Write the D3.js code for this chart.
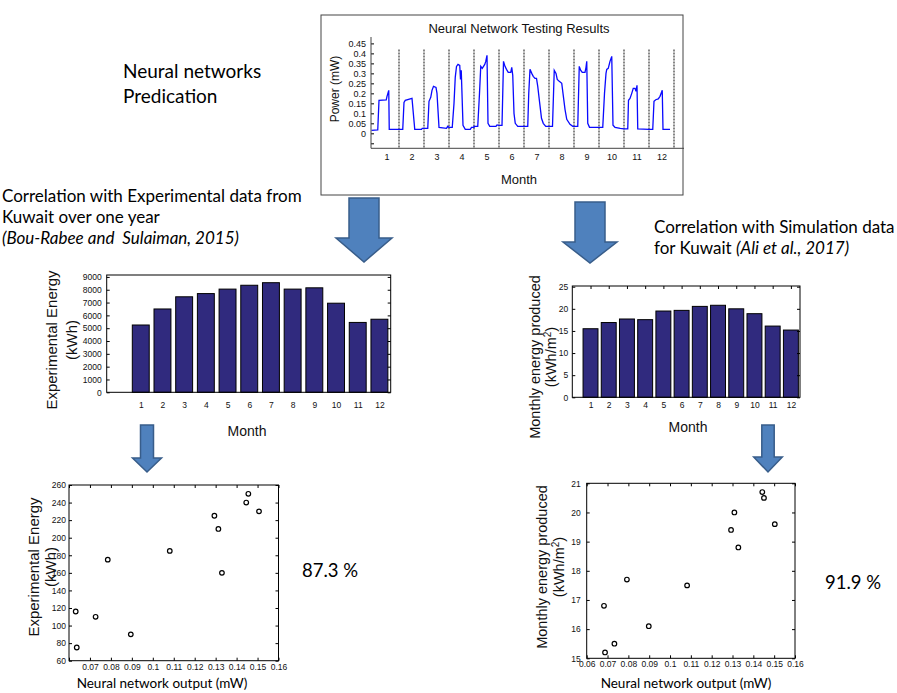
<!DOCTYPE html>
<html>
<head>
<meta charset="utf-8">
<script src="https://cdn.jsdelivr.net/npm/d3@7"></script>
<style>
  body { margin: 0; background: #fff; }
  svg text { font-family: "Liberation Sans", Arial, sans-serif; fill: #111; }
  svg text.note { font-family: Lato, "Open Sans", sans-serif; fill: #000; white-space: pre; }
</style>
</head>
<body>
<svg id="fig" width="897" height="693"></svg>
<script>
// ---------- data ----------
const months = [1, 2, 3, 4, 5, 6, 7, 8, 9, 10, 11, 12];

// NN testing result: one power curve per month, [position inside month 0..1, power mW]
const powerProfile = [
  [[-0.1, 0.015], [0.15, 0.017], [0.2, 0.165], [0.49, 0.167], [0.52, 0.185], [0.59, 0.215], [0.61, 0.02], [1, 0.02]],
  [[0, 0.02], [0.15, 0.02], [0.2, 0.155], [0.25, 0.165], [0.52, 0.175], [0.63, 0.02], [0.9, 0.02], [0.93, 0.025], [1, 0.025]],
  [[0, 0.025], [0.15, 0.025], [0.2, 0.16], [0.27, 0.18], [0.32, 0.215], [0.38, 0.235], [0.48, 0.23], [0.52, 0.2], [0.6, 0.03], [0.9, 0.025], [0.95, 0.035], [1, 0.03]],
  [[0, 0.03], [0.13, 0.03], [0.2, 0.15], [0.25, 0.28], [0.3, 0.335], [0.36, 0.345], [0.43, 0.34], [0.46, 0.27], [0.49, 0.315], [0.56, 0.04], [0.65, 0.02], [0.85, 0.02], [0.9, 0.03], [1, 0.03]],
  [[0, 0.035], [0.15, 0.035], [0.22, 0.2], [0.27, 0.335], [0.33, 0.325], [0.43, 0.345], [0.47, 0.36], [0.52, 0.39], [0.56, 0.05], [0.63, 0.035], [0.88, 0.035], [0.92, 0.042], [1, 0.04]],
  [[0, 0.04], [0.12, 0.04], [0.18, 0.36], [0.24, 0.335], [0.3, 0.32], [0.37, 0.305], [0.47, 0.305], [0.51, 0.33], [0.55, 0.29], [0.6, 0.1], [0.65, 0.05], [0.75, 0.035], [1, 0.035]],
  [[0, 0.035], [0.15, 0.035], [0.19, 0.2], [0.24, 0.32], [0.31, 0.3], [0.37, 0.285], [0.44, 0.275], [0.5, 0.275], [0.55, 0.235], [0.61, 0.17], [0.7, 0.075], [0.77, 0.05], [0.87, 0.035], [1, 0.035]],
  [[0, 0.035], [0.14, 0.035], [0.21, 0.315], [0.28, 0.3], [0.33, 0.27], [0.41, 0.26], [0.51, 0.25], [0.57, 0.19], [0.64, 0.12], [0.71, 0.07], [0.84, 0.045], [0.95, 0.035], [1, 0.035]],
  [[0, 0.035], [0.15, 0.035], [0.21, 0.335], [0.27, 0.315], [0.33, 0.305], [0.44, 0.305], [0.48, 0.33], [0.51, 0.36], [0.55, 0.05], [0.62, 0.03], [0.9, 0.03], [1, 0.03]],
  [[0, 0.03], [0.15, 0.03], [0.22, 0.2], [0.28, 0.3], [0.31, 0.32], [0.37, 0.325], [0.44, 0.36], [0.51, 0.385], [0.56, 0.04], [0.64, 0.03], [0.85, 0.025], [1, 0.022]],
  [[0, 0.022], [0.15, 0.022], [0.18, 0.165], [0.24, 0.175], [0.31, 0.2], [0.37, 0.225], [0.44, 0.225], [0.48, 0.21], [0.52, 0.24], [0.55, 0.022], [1, 0.02]],
  [[0, 0.02], [0.15, 0.02], [0.2, 0.16], [0.27, 0.168], [0.37, 0.172], [0.44, 0.185], [0.53, 0.215], [0.56, 0.02], [0.84, 0.02]]
];
const powerTicks = [-0.05, 0, 0.05, 0.1, 0.15, 0.2, 0.25, 0.3, 0.35, 0.4, 0.45];

// monthly bars
const expEnergy = [5250, 6500, 7450, 7700, 8050, 8350, 8550, 8050, 8150, 6950, 5450, 5700];
const expTicks = [0, 1000, 2000, 3000, 4000, 5000, 6000, 7000, 8000, 9000];
const simEnergy = [15.5, 16.9, 17.7, 17.55, 19.5, 19.65, 20.55, 20.8, 20.0, 18.9, 16.1, 15.2];
const simTicks = [0, 5, 10, 15, 20, 25];

// correlation scatters
const nnOutputExp = [0.0632, 0.0637, 0.0727, 0.0785, 0.0895, 0.1081, 0.1294, 0.1313, 0.1330, 0.1446, 0.1456, 0.1507];
const expScatter = [116, 75, 110, 175, 90, 185, 225, 210, 160, 240, 250, 230];
const nnOutputSim = [0.0683, 0.0688, 0.0733, 0.0793, 0.0898, 0.1082, 0.1293, 0.1309, 0.1328, 0.1443, 0.1451, 0.1503];
const simScatter = [16.8, 15.2, 15.5, 17.7, 16.1, 17.5, 19.4, 20.0, 18.8, 20.7, 20.5, 19.6];
const nnTicks = [0.06, 0.07, 0.08, 0.09, 0.1, 0.11, 0.12, 0.13, 0.14, 0.15, 0.16];
const expScatterTicks = [60, 80, 100, 120, 140, 160, 180, 200, 220, 240, 260];
const simScatterTicks = [15, 16, 17, 18, 19, 20, 21];

const plain = d => String(d);

const svg = d3.select("#fig");
svg.append("rect").attr("width", 897).attr("height", 693).attr("fill", "#fff");

// style the text/lines an axis call produced
function styleAxis(g, size, color) {
  g.attr("font-family", null).attr("font-size", null);
  g.selectAll("text").style("font-size", size + "px").attr("fill", color || "#222");
  g.selectAll("line").attr("stroke", "#000");
  g.select(".domain").remove();
  return g;
}

function blockArrow(cx, top, headTop, tip, shaftHalf, headHalf) {
  let pts = [[cx - shaftHalf, top], [cx + shaftHalf, top], [cx + shaftHalf, headTop], [cx + headHalf, headTop],
             [cx, tip], [cx - headHalf, headTop], [cx - shaftHalf, headTop]];
  svg.append("path").attr("d", d3.line()(pts) + "Z")
    .attr("fill", "#4f81bd").attr("stroke", "#385d8a").attr("stroke-width", 1.5);
}

function rotLabel(lines, cy, size) {
  // lines: [[text, x]] ; "^2" marks a superscript two
  lines.forEach(([txt, x]) => {
    let t = svg.append("text").attr("transform", `translate(${x},${cy}) rotate(-90)`)
      .attr("text-anchor", "middle").attr("dy", "0.35em").style("font-size", size + "px");
    if (txt.includes("^2")) {
      let parts = txt.split("^2");
      t.append("tspan").text(parts[0]);
      t.append("tspan").attr("baseline-shift", "super").style("font-size", (size * 0.7) + "px").text("2");
      t.append("tspan").text(parts[1]);
    } else t.text(txt);
  });
}

function note(x, y, size, txt, anchor) {
  return svg.append("text").attr("class", "note").attr("x", x).attr("y", y)
    .attr("text-anchor", anchor || "start").style("font-size", size + "px").text(txt);
}

// ---------- top: neural network testing results ----------
{
  svg.append("rect").attr("x", 321).attr("y", 15).attr("width", 362).attr("height", 180)
    .attr("fill", "none").attr("stroke", "#444").attr("stroke-width", 1);

  let x = d3.scaleLinear().domain([-0.12, 12.4]).range([371, 684]);
  let y = d3.scaleLinear().domain([-0.075, 0.482]).range([148.3, 37]);

  // month separators
  svg.append("g").selectAll("line").data(months).join("line")
    .attr("x1", d => x(d)).attr("x2", d => x(d))
    .attr("y1", y(0.42)).attr("y2", y(-0.075))
    .attr("stroke", "#555").attr("stroke-width", 1.4).attr("stroke-dasharray", "2,1");

  let pts = [];
  powerProfile.forEach((prof, i) => prof.forEach(p => pts.push([i + p[0], p[1]])));
  svg.append("path").datum(pts)
    .attr("d", d3.line().x(d => x(d[0])).y(d => y(d[1])))
    .attr("fill", "none").attr("stroke", "#0a0aff").attr("stroke-width", 1.3);

  svg.append("g").attr("transform", `translate(${x.range()[0]},0)`)
    .call(d3.axisLeft(y).tickValues(powerTicks).tickSize(-3).tickPadding(5)
      .tickFormat(d => d < 0 ? "" : String(+d.toFixed(2))))
    .call(g => styleAxis(g, 9, "#333"));
  svg.append("line").attr("x1", x.range()[0]).attr("x2", x.range()[0])
    .attr("y1", y.range()[0]).attr("y2", y.range()[1]).attr("stroke", "#444");
  svg.append("g").attr("transform", `translate(0,${y.range()[0]})`)
    .call(d3.axisBottom(x).tickValues(months.map(m => m - 0.5)).tickSize(0).tickPadding(5)
      .tickFormat((d, i) => months[i]))
    .call(g => styleAxis(g, 9, "#333"));
  svg.append("line").attr("x1", x.range()[0]).attr("x2", x.range()[1])
    .attr("y1", y.range()[0]).attr("y2", y.range()[0]).attr("stroke", "#444");

  svg.append("text").attr("x", 519).attr("y", 33).attr("text-anchor", "middle")
    .style("font-size", "13px").text("Neural Network Testing Results");
  svg.append("text").attr("x", 519).attr("y", 184).attr("text-anchor", "middle")
    .style("font-size", "13px").text("Month");
  rotLabel([["Power (mW)", 335]], 89, 12);
}

// ---------- left: experimental monthly energy ----------
{
  let x = d3.scaleLinear().domain([-0.57, 12.52]).range([106.7, 390.7]);
  let y = d3.scaleLinear().domain([0, 9150]).range([392.3, 275]);
  let bw = 0.78 * (x(1) - x(0));

  svg.append("g").selectAll("rect").data(expEnergy).join("rect")
    .attr("x", (d, i) => x(months[i]) - bw / 2).attr("width", bw)
    .attr("y", d => y(d)).attr("height", d => y(0) - y(d))
    .attr("fill", "#302a7e").attr("stroke", "#000").attr("stroke-width", 1);

  svg.append("g").attr("transform", `translate(${x.range()[0]},0)`)
    .call(d3.axisLeft(y).tickValues(expTicks).tickSize(-3).tickPadding(5).tickFormat(plain))
    .call(g => styleAxis(g, 8.5));
  svg.append("g").attr("transform", `translate(${x.range()[1]},0)`)
    .call(d3.axisRight(y).tickValues(expTicks).tickSize(-3).tickFormat(""))
    .call(g => styleAxis(g, 8.5));
  svg.append("g").attr("transform", `translate(0,${y.range()[0]})`)
    .call(d3.axisBottom(x).tickValues(months).tickSize(0).tickPadding(10).tickFormat(plain))
    .call(g => styleAxis(g, 8.5));
  svg.append("rect").attr("x", 106.7).attr("y", 275).attr("width", 284).attr("height", 117.3)
    .attr("fill", "none").attr("stroke", "#000");

  svg.append("text").attr("x", 247).attr("y", 436).attr("text-anchor", "middle")
    .style("font-size", "14px").text("Month");
  rotLabel([["Experimental Energy", 52], ["(kWh)", 71.5]], 340, 15);
}

// ---------- right: simulated monthly energy ----------
{
  let x = d3.scaleLinear().domain([0, 12.5]).range([572.3, 800]);
  let y = d3.scaleLinear().domain([0, 25]).range([397.3, 286.7]);
  let bw = 0.82 * (x(1) - x(0));

  svg.append("g").selectAll("rect").data(simEnergy).join("rect")
    .attr("x", (d, i) => x(months[i]) - bw / 2).attr("width", bw)
    .attr("y", d => y(d)).attr("height", d => y(0) - y(d))
    .attr("fill", "#302a7e").attr("stroke", "#000").attr("stroke-width", 1);

  svg.append("g").attr("transform", `translate(${x.range()[0]},0)`)
    .call(d3.axisLeft(y).tickValues(simTicks).tickSize(-3).tickPadding(4).tickFormat(plain))
    .call(g => styleAxis(g, 8.5));
  svg.append("g").attr("transform", `translate(${x.range()[1]},0)`)
    .call(d3.axisRight(y).tickValues(simTicks).tickSize(-3).tickFormat(""))
    .call(g => styleAxis(g, 8.5));
  svg.append("g").attr("transform", `translate(0,${y.range()[0]})`)
    .call(d3.axisBottom(x).tickValues(months).tickSize(0).tickPadding(5).tickFormat(plain))
    .call(g => styleAxis(g, 8.5));
  svg.append("g").attr("transform", "translate(0,286)")
    .call(d3.axisTop(x).tickValues(months).tickSize(-3).tickFormat(""))
    .call(g => styleAxis(g, 8.5));
  svg.append("rect").attr("x", 572.3).attr("y", 286).attr("width", 227.7).attr("height", 111.3)
    .attr("fill", "none").attr("stroke", "#000");

  svg.append("text").attr("x", 688).attr("y", 432).attr("text-anchor", "middle")
    .style("font-size", "14px").text("Month");
  rotLabel([["Monthly energy produced", 535], ["(kWh/m^2)", 551]], 357, 14.5);
}

// ---------- scatter helper ----------
function scatter(xs, ys, x, y, yTicks, xTickLabels, yPad) {
  let [x0, x1] = x.range(), [y0, y1] = y.range();
  svg.append("g").attr("transform", `translate(${x0},0)`)
    .call(d3.axisLeft(y).tickValues(yTicks).tickSize(-3).tickPadding(yPad).tickFormat(plain))
    .call(g => styleAxis(g, 8.5));
  svg.append("g").attr("transform", `translate(${x1},0)`)
    .call(d3.axisRight(y).tickValues(yTicks).tickSize(-3).tickFormat(""))
    .call(g => styleAxis(g, 8.5));
  svg.append("g").attr("transform", `translate(0,${y0})`)
    .call(d3.axisBottom(x).tickValues(nnTicks).tickSize(-3).tickPadding(3)
      .tickFormat(d => xTickLabels.includes(d) ? String(d) : ""))
    .call(g => styleAxis(g, 8.5));
  svg.append("g").attr("transform", `translate(0,${y1})`)
    .call(d3.axisTop(x).tickValues(nnTicks).tickSize(-3).tickFormat(""))
    .call(g => styleAxis(g, 8.5));
  svg.append("rect").attr("x", x0).attr("y", y1).attr("width", x1 - x0).attr("height", y0 - y1)
    .attr("fill", "none").attr("stroke", "#000");
  svg.append("g").selectAll("circle").data(ys).join("circle")
    .attr("cx", (d, i) => x(xs[i])).attr("cy", d => y(d)).attr("r", 2.3)
    .attr("fill", "none").attr("stroke", "#000").attr("stroke-width", 1.2);
}

// ---------- bottom left: experimental correlation ----------
{
  let x = d3.scaleLinear().domain([0.06, 0.16]).range([69, 278.5]);
  let y = d3.scaleLinear().domain([60, 260]).range([660.7, 485]);
  scatter(nnOutputExp, expScatter, x, y, expScatterTicks, nnTicks.slice(1), 3);
  rotLabel([["Experimental Energy", 34], ["(kWh)", 51]], 567, 15);
  note(162, 688, 13.5, "Neural network output (mW)", "middle");
  note(302, 577, 18.5, "87.3 %");
}

// ---------- bottom right: simulation correlation ----------
{
  let x = d3.scaleLinear().domain([0.06, 0.16]).range([586.7, 795]);
  let y = d3.scaleLinear().domain([15, 21]).range([658.3, 483.3]);
  scatter(nnOutputSim, simScatter, x, y, simScatterTicks, nnTicks, 6);
  rotLabel([["Monthly energy produced", 542], ["(kWh/m^2)", 559]], 567, 14.5);
  note(686, 688, 13.5, "Neural network output (mW)", "middle");
  note(825, 589, 18.5, "91.9 %");
}

// ---------- annotations ----------
note(123, 78, 19, "Neural networks");
note(123, 103, 19, "Predication");

note(2, 202, 17, "Correlation with Experimental data from");
note(2, 223, 17, "Kuwait over one year");
note(2, 244, 17, "(Bou-Rabee and  Sulaiman, 2015)").style("font-style", "italic");

note(654, 233, 17, "Correlation with Simulation data");
let t2 = note(654, 254, 17, "");
t2.append("tspan").text("for Kuwait ");
t2.append("tspan").style("font-style", "italic").text("(Ali et al., 2017)");

blockArrow(364, 198, 238, 262, 15, 28);
blockArrow(590, 202, 242, 263, 15, 27);
blockArrow(147, 425, 458, 472, 6.5, 14.5);
blockArrow(768, 425, 457, 472, 6.2, 14.3);
</script>
</body>
</html>
